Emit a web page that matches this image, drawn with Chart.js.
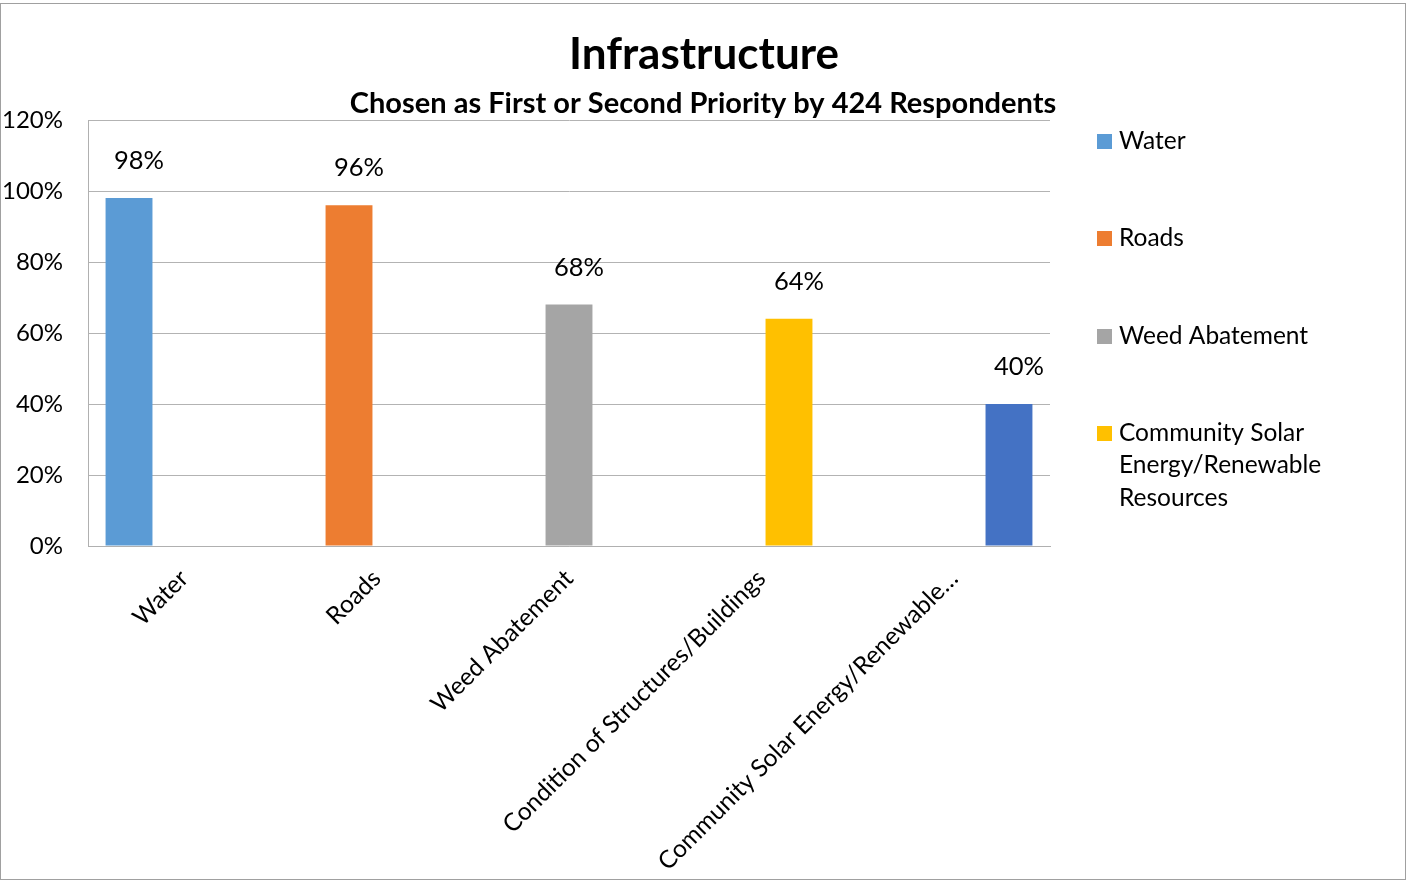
<!DOCTYPE html>
<html>
<head>
<meta charset="utf-8">
<title>Infrastructure</title>
<script src="https://cdn.jsdelivr.net/npm/chart.js@4/dist/chart.umd.min.js"></script>
<style>
  html, body { margin: 0; padding: 0; background: #fff; }
  #wrap { width: 1406px; height: 880px; position: relative; }
</style>
</head>
<body>
<div id="wrap"><canvas id="grafico" width="1406" height="880"></canvas></div>
<script>
// Dados do gráfico
const categorias = ['Water', 'Roads', 'Weed Abatement', 'Condition of Structures/Buildings', 'Community Solar Energy/Renewable…'];
const valores = [98, 96, 68, 64, 40];
const cores = ['#5B9BD5', '#ED7D31', '#A5A5A5', '#FFC000', '#4472C4'];
const nomesLegenda = ['Water', 'Roads', 'Weed Abatement', ['Community Solar', 'Energy/Renewable', 'Resources']];
const ticksY = [0, 20, 40, 60, 80, 100, 120];

const titulo = 'Infrastructure';
const subtitulo = 'Chosen as First or Second Priority by 424 Respondents';
const fonte = 'Lato, "Open Sans", sans-serif';

// uma série por categoria, como no gráfico original
const datasets = valores.map((v, i) => ({
    label: Array.isArray(nomesLegenda[i]) ? nomesLegenda[i].join(' ') : (nomesLegenda[i] || categorias[i]),
    data: categorias.map((_, j) => (j === i ? v : null)),
    backgroundColor: cores[i],
    borderWidth: 0,
    categoryPercentage: 0.717,
    barPercentage: 1.70
}));

// título, rótulos de valor, legenda e moldura
const extras = {
    id: 'extras',
    afterDraw(chart) {
        const ctx = chart.ctx;
        ctx.save();

        // moldura externa
        ctx.strokeStyle = '#a0a0a0';
        ctx.lineWidth = 1;
        ctx.strokeRect(0.5, 3.5, 1405, 876);

        // títulos
        ctx.fillStyle = '#000';
        ctx.textAlign = 'center';
        ctx.textBaseline = 'middle';
        ctx.font = 'bold 44px ' + fonte;
        ctx.fillText(titulo, 704, 55);
        ctx.font = 'bold 29px ' + fonte;
        ctx.fillText(subtitulo, 703, 104);

        // rótulos de valor acima das barras
        ctx.font = '25.5px ' + fonte;
        chart.data.datasets.forEach((ds, i) => {
            const meta = chart.getDatasetMeta(i);
            const bar = meta.data[i];
            ctx.fillText(valores[i] + '%', bar.x + 10, bar.y - 37);
        });

        // legenda à direita
        ctx.textAlign = 'left';
        ctx.font = '24.5px ' + fonte;
        const yLeg = [141, 238, 336, 433];
        nomesLegenda.forEach((nome, i) => {
            const linhas = Array.isArray(nome) ? nome : [nome];
            ctx.fillStyle = cores[i];
            ctx.fillRect(1097, yLeg[i] - 7, 15, 15);
            ctx.fillStyle = '#000';
            linhas.forEach((l, k) => ctx.fillText(l, 1119, yLeg[i] + k * 32.5));
        });

        ctx.restore();
    }
};

const ctx = document.getElementById('grafico').getContext('2d');
const grafico = new Chart(ctx, {
    type: 'bar',
    data: { labels: categorias, datasets: datasets },
    options: {
        responsive: false,
        animation: false,
        devicePixelRatio: 1,
        layout: { padding: { top: 120, right: 356, left: 0, bottom: 0 } },
        plugins: {
            legend: { display: false },
            tooltip: { enabled: false }
        },
        datasets: { bar: { grouped: true, skipNull: false } },
        scales: {
            x: {
                grid: { display: false },
                border: { display: true, color: '#b0b0b0' },
                ticks: {
                    autoSkip: false,
                    minRotation: 45,
                    maxRotation: 45,
                    padding: 10,
                    color: '#000',
                    font: { family: fonte, size: 24.5 }
                },
                afterFit(scale) { scale.height = 334; }
            },
            y: {
                min: 0,
                max: 120,
                afterBuildTicks(scale) { scale.ticks = ticksY.map(v => ({ value: v })); },
                grid: { color: '#b3b3b3', drawTicks: false },
                border: { display: true, color: '#b0b0b0' },
                ticks: {
                    padding: 25,
                    color: '#000',
                    font: { family: fonte, size: 24 },
                    callback: v => v + '%'
                },
                afterFit(scale) { scale.width = 88; }
            }
        }
    },
    plugins: [extras]
});
</script>
</body>
</html>
